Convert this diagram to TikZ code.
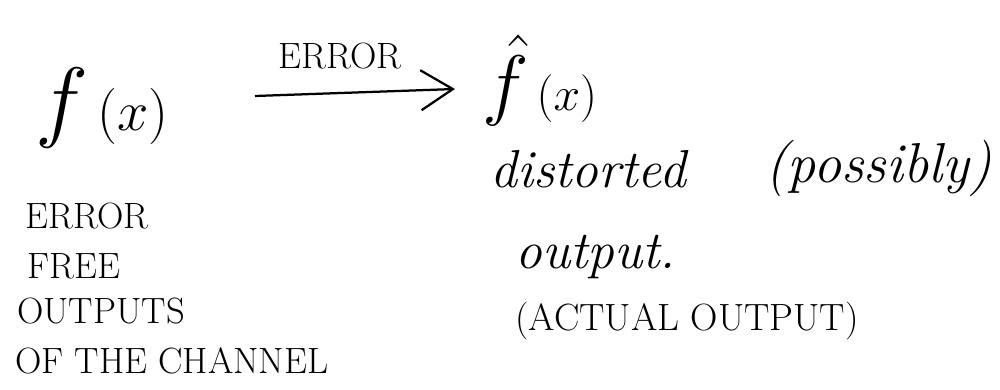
\RequirePackage{fix-cm}
\documentclass[tikz,border=0pt]{standalone}
\usepackage{amsmath}
\usetikzlibrary{arrows.meta,positioning}

\begin{document}
\begin{tikzpicture}[
  x=0.025cm, y=-0.025cm,
  caps/.style={anchor=base west, inner sep=0pt, font=\fontsize{26}{30}\selectfont},
  hand/.style={anchor=base west, inner sep=0pt, font=\fontsize{38}{44}\selectfont\itshape},
  funcnode/.style={anchor=base west, inner sep=0pt},
  channel/.style={draw, line width=1.6pt,
                  -{Straight Barb[length=0.8cm, width=1.0cm, line width=1.6pt]}},
]
  \useasboundingbox (0,0) rectangle (1000,389);

  % ===== error free output (left) =====
  \node[funcnode] (fx) at (35,130)
       {{\fontsize{64}{70}\selectfont$f$}{\fontsize{40}{46}\selectfont$\,(x)$}};
  \node[caps] (lerror) at (25,228) {ERROR};
  \node[caps] (lfree) at (27,278) {FREE};
  \node[caps] (loutputs) at (17,323) {OUTPUTS};
  \node[caps] (lchannel) at (15,373) {OF THE CHANNEL};

  % ===== distorted output (right) =====
  \node[funcnode] (fhat) at (482,110)
       {{\fontsize{56}{60}\selectfont$\hat{f}$}{\fontsize{34}{40}\selectfont$\,(x)$}};
  \node[hand] (distorted) at (490,187) {distorted};
  \node[hand, font=\fontsize{40}{46}\selectfont\itshape] (possibly) at (765,182) {(possibly)};
  \node[hand] (outputtxt) at (515,268) {output.};
  \node[caps, font=\fontsize{27}{32}\selectfont] (actual) at (515,330)
       {(ACTUAL OUTPUT)};

  % ===== channel arrow =====
  \coordinate (arrstart) at (255,96);
  \coordinate (arrend) at (455,89);
  \draw[channel] (arrstart) -- (arrend);
  \node[caps] (errlabel) at (278,68) {ERROR};

\end{tikzpicture}
\end{document}
